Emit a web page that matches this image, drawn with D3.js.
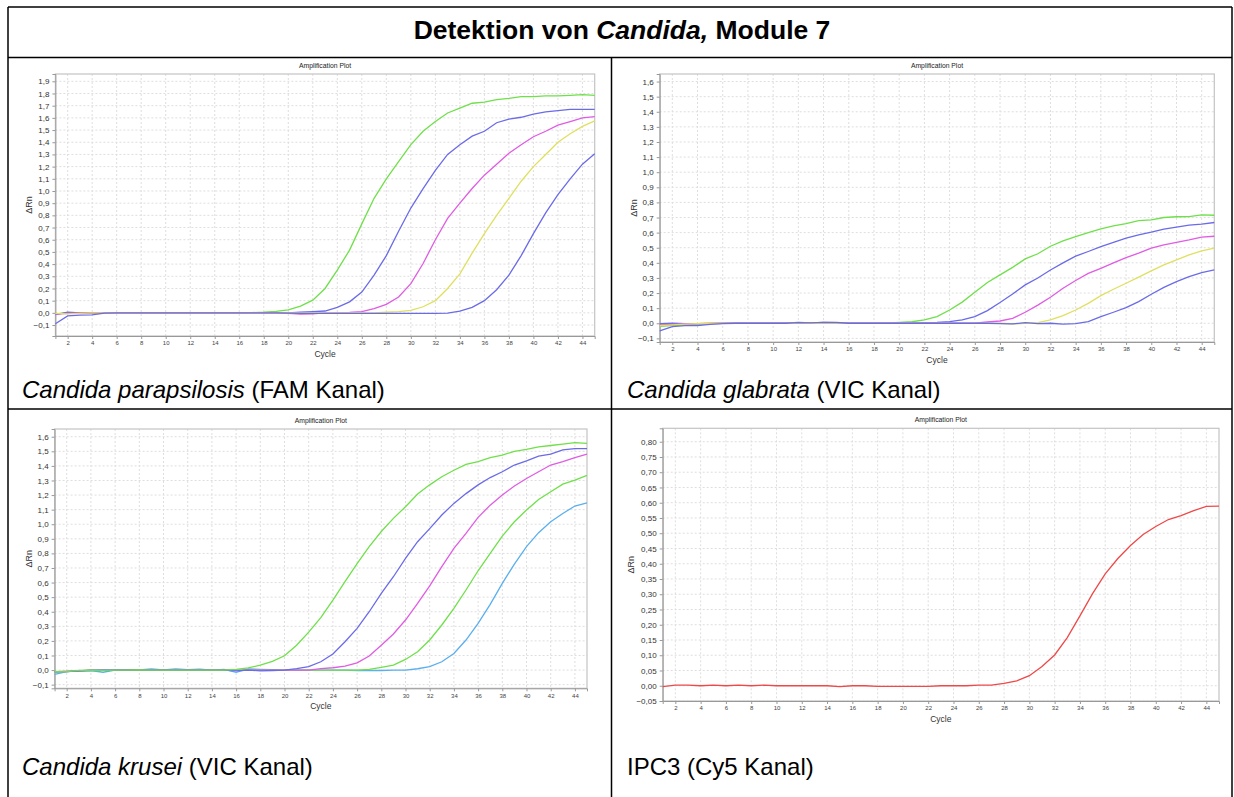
<!DOCTYPE html>
<html>
<head>
<meta charset="utf-8">
<script src="https://cdn.jsdelivr.net/npm/d3@7"></script>
<style>
  body { margin: 0; background: #fff; }
  svg { display: block; font-family: "Liberation Sans", Arial, sans-serif; }
</style>
</head>
<body>
<div id="chart"></div>
<script>
// cycles on the x axis
var cycles = [1,2,3,4,5,6,7,8,9,10,11,12,13,14,15,16,17,18,19,20,21,22,23,24,25,26,27,28,29,30,31,32,33,34,35,36,37,38,39,40,41,42,43,44,45];
var xTicks = [2,4,6,8,10,12,14,16,18,20,22,24,26,28,30,32,34,36,38,40,42,44];

// y tick labels
var yTicks19 = [-0.1,0,0.1,0.2,0.3,0.4,0.5,0.6,0.7,0.8,0.9,1.0,1.1,1.2,1.3,1.4,1.5,1.6,1.7,1.8,1.9];
var yTicks16 = [-0.1,0,0.1,0.2,0.3,0.4,0.5,0.6,0.7,0.8,0.9,1.0,1.1,1.2,1.3,1.4,1.5,1.6];
var yTicks08 = [-0.05,0,0.05,0.10,0.15,0.20,0.25,0.30,0.35,0.40,0.45,0.50,0.55,0.60,0.65,0.70,0.75,0.80];

// Candida parapsilosis (FAM)
var famGreen  = [-0.01,0,-0.005,0,0.002,0.002,0,0,0,0,0,0,0,0,0,0,0.002,0.005,0.012,0.025,0.055,0.104,0.2,0.35,0.515,0.73,0.94,1.10,1.24,1.38,1.49,1.57,1.64,1.68,1.72,1.73,1.75,1.76,1.775,1.775,1.78,1.78,1.785,1.79,1.785];
var famBlue1  = [-0.015,0.005,0,-0.003,0,0.002,0,0,0,0,0,0,0,0,0,0,0,0,0,0,0.005,0.01,0.015,0.045,0.09,0.17,0.31,0.47,0.67,0.86,1.02,1.17,1.30,1.38,1.45,1.49,1.56,1.59,1.605,1.63,1.65,1.66,1.67,1.67,1.67];
var famPink   = [-0.01,-0.005,0,0,0,0,0,0,0,0,0,0,0,0,0,0,0,0,0,-0.005,-0.01,-0.008,0,0.002,0.004,0.01,0.035,0.07,0.13,0.24,0.405,0.60,0.775,0.90,1.02,1.13,1.22,1.31,1.38,1.445,1.49,1.54,1.57,1.60,1.61];
var famYellow = [-0.005,-0.008,-0.005,0,0,0,0,0,0,0,0,0,0,0,0,0,0,0,0,0,0,0,0,0,0,0,0,0.005,0.01,0.02,0.05,0.10,0.20,0.32,0.49,0.65,0.80,0.94,1.08,1.20,1.30,1.40,1.47,1.53,1.575];
var famBlue2  = [-0.09,-0.025,-0.018,-0.017,-0.002,0,0,0,0,0,0,0,0,0,0,0,0,0,0,-0.003,-0.005,-0.005,-0.005,-0.005,-0.005,-0.005,-0.005,-0.005,-0.005,-0.005,-0.005,-0.005,-0.002,0.015,0.045,0.10,0.19,0.31,0.47,0.65,0.82,0.97,1.10,1.22,1.305];

// Candida glabrata (VIC)
var glaGreen  = [-0.02,-0.015,-0.01,-0.005,-0.003,0,0.002,0,0,0,0,0.003,0,0.002,0,0,0,0,0,0.005,0.01,0.022,0.044,0.088,0.14,0.205,0.27,0.32,0.37,0.426,0.46,0.51,0.545,0.574,0.60,0.625,0.645,0.66,0.68,0.685,0.70,0.705,0.706,0.717,0.715];
var glaBlue1  = [-0.003,0,-0.002,-0.003,-0.002,0,0,0,0,0,0,0.005,0.003,0.006,0.004,0,0,0,0,0,0,0.004,0.006,0.011,0.022,0.044,0.084,0.137,0.194,0.254,0.30,0.353,0.40,0.444,0.475,0.508,0.536,0.563,0.585,0.603,0.623,0.636,0.65,0.656,0.667];
var glaPink   = [-0.01,-0.008,-0.005,-0.003,0,0,0,0,0,0,0,0.003,0,0.004,0,0,0,0,0,0,0,0,0,0,0,0,0.009,0.015,0.033,0.073,0.12,0.172,0.232,0.283,0.33,0.364,0.40,0.435,0.464,0.497,0.519,0.536,0.552,0.57,0.576];
var glaYellow = [-0.015,-0.01,-0.006,-0.003,0,0,0,0,0,0,0,0,0,0,0,0,0,0,0,0,0,0,0,0,0,0,0,0,-0.005,0,0.004,0.022,0.05,0.088,0.132,0.183,0.225,0.265,0.305,0.347,0.386,0.42,0.453,0.479,0.497];
var glaBlue2  = [-0.05,-0.022,-0.016,-0.015,-0.008,-0.002,0,0,0,0,0,0.004,0.002,0.006,0.005,0,0,0,0,0,0,0,0,0,0,0,0,-0.002,-0.004,0.004,-0.002,0,-0.006,-0.002,0.011,0.044,0.073,0.104,0.143,0.192,0.238,0.276,0.309,0.336,0.353];

// Candida krusei (VIC)
var kruGreen1 = [-0.01,-0.01,-0.002,0,-0.002,0,0,0.002,0,0,0,0,0,0,0,0.005,0.015,0.034,0.06,0.098,0.17,0.26,0.36,0.48,0.606,0.73,0.846,0.95,1.04,1.12,1.207,1.27,1.326,1.37,1.41,1.43,1.456,1.474,1.50,1.513,1.53,1.54,1.55,1.56,1.554];
var kruBlue   = [-0.01,-0.01,-0.005,-0.003,0,0,0,0,0,0,0,0,0,0,0,-0.005,0,-0.005,-0.003,0,0.01,0.023,0.057,0.11,0.194,0.286,0.40,0.526,0.64,0.766,0.88,0.97,1.063,1.143,1.21,1.27,1.32,1.36,1.406,1.435,1.467,1.48,1.51,1.518,1.518];
var kruPink   = [-0.01,-0.008,-0.005,0,0,0,0,0,0,0,0,0,0,0,0,0,0,0,0,0,0,0,0.01,0.016,0.027,0.05,0.096,0.17,0.247,0.343,0.457,0.578,0.709,0.834,0.937,1.047,1.131,1.20,1.262,1.314,1.36,1.406,1.43,1.456,1.48];
var kruGreen2 = [-0.015,-0.01,-0.005,0,0,0,0,0,0,0,0,0,0,0,0,0,0,0,0,0,0,0,0,0,0,0,0.005,0.018,0.034,0.073,0.126,0.206,0.309,0.423,0.549,0.681,0.80,0.919,1.017,1.097,1.17,1.223,1.275,1.303,1.335];
var kruCyan   = [-0.03,-0.01,-0.005,-0.003,-0.015,0,0.002,0.002,0.008,0.002,0.008,0.003,0.006,0,0.005,-0.015,0.008,0.005,0.003,0.002,0,0,0,0,0,-0.003,-0.003,-0.003,0,0,0.009,0.023,0.057,0.114,0.206,0.32,0.45,0.594,0.727,0.846,0.942,1.017,1.074,1.125,1.147];

// IPC3 (Cy5)
var ipcRed = [-0.003,0.002,0.002,0,0.002,0,0.002,0,0.002,0,0,0,0,0,-0.003,0,0,-0.002,-0.002,-0.002,-0.002,-0.002,0,0,0,0.002,0.002,0.008,0.016,0.033,0.063,0.101,0.158,0.229,0.302,0.367,0.417,0.46,0.496,0.522,0.545,0.558,0.574,0.588,0.589];

var cGreen = "#6fe04a", cBlue = "#6b6be8", cPink = "#df5ce3", cYellow = "#dfe060", cCyan = "#5aafee", cRed = "#ee4848";

var W = 1234, H = 797;
var svg = d3.select("#chart").append("svg").attr("width", W).attr("height", H);

var commaFmt = function(dec) {
    return function(v) { return d3.format("." + dec + "f")(v).replace(".", ","); };
};

function drawPanel(p) {
    var x = d3.scaleLinear().domain([1, 45]).range([p.left, p.right]);
    var y = d3.scaleLinear().domain(p.yDomain).range([p.bottom, p.top]);
    var g = svg.append("g");

    // grid
    g.selectAll(".vg").data(xTicks).enter().append("line")
        .attr("x1", function(d){ return x(d); }).attr("x2", function(d){ return x(d); })
        .attr("y1", p.top).attr("y2", p.bottom)
        .attr("stroke", "#dedede").attr("stroke-dasharray", "2,2").attr("stroke-width", 1);
    g.selectAll(".hg").data(p.yTicks).enter().append("line")
        .attr("x1", p.left).attr("x2", p.right)
        .attr("y1", function(d){ return y(d); }).attr("y2", function(d){ return y(d); })
        .attr("stroke", "#dedede").attr("stroke-dasharray", "2,2").attr("stroke-width", 1);

    // frame
    g.append("rect").attr("x", p.left).attr("y", p.top)
        .attr("width", p.right - p.left).attr("height", p.bottom - p.top)
        .attr("fill", "none").attr("stroke", "#c4c4c4").attr("stroke-width", 1.2);

    // axes
    var yAxis = d3.axisLeft(y).tickValues(p.yTicks).tickSize(3).tickPadding(3).tickFormat(commaFmt(p.dec));
    var ga = g.append("g").attr("transform", "translate(" + p.left + ",0)").call(yAxis);
    ga.select(".domain").attr("stroke", "#999");
    ga.selectAll(".tick line").attr("stroke", "#999");
    ga.selectAll("text").attr("font-size", 8).attr("fill", "#333").attr("font-family", "Liberation Sans, Arial");

    var xAxis = d3.axisBottom(x).tickValues(xTicks).tickSize(3).tickPadding(2);
    var gx = g.append("g").attr("transform", "translate(0," + p.bottom + ")").call(xAxis);
    gx.select(".domain").attr("stroke", "#999");
    gx.selectAll(".tick line").attr("stroke", "#999");
    gx.selectAll("text").attr("font-size", 6).attr("fill", "#444").attr("font-family", "Liberation Sans, Arial");

    // lines
    var line = d3.line()
        .x(function(d, i){ return x(cycles[i]); })
        .y(function(d){ return y(d); });
    g.selectAll(".curve").data(p.series).enter().append("path")
        .attr("d", function(s){ return line(s.values); })
        .attr("fill", "none")
        .attr("stroke", function(s){ return s.color; })
        .attr("stroke-width", 1.3);

    // labels
    g.append("text").attr("x", (p.left + p.right) / 2).attr("y", p.top - 6)
        .attr("text-anchor", "middle").attr("font-size", 6.8).attr("fill", "#222")
        .text("Amplification Plot");
    g.append("text").attr("x", (p.left + p.right) / 2).attr("y", p.bottom + 21)
        .attr("text-anchor", "middle").attr("font-size", 8.5).attr("fill", "#333")
        .text("Cycle");
    g.append("text")
        .attr("transform", "translate(" + (p.left - p.yLabGap) + "," + ((p.top + p.bottom) / 2) + ") rotate(-90)")
        .attr("text-anchor", "middle").attr("font-size", 9).attr("fill", "#333")
        .text("\u0394Rn");

    // caption
    var cap = svg.append("text").attr("x", p.capX).attr("y", p.capY)
        .attr("font-size", 24).attr("fill", "#000");
    if (p.capItalic) cap.append("tspan").attr("font-style", "italic").text(p.capItalic);
    cap.append("tspan").text(p.capRest);
}

var panels = [
    { left: 55.4, right: 594.7, top: 74, bottom: 336, yDomain: [-0.19, 1.96], yTicks: yTicks19, dec: 1, yLabGap: 23,
      series: [ {values: famGreen, color: cGreen}, {values: famBlue1, color: cBlue}, {values: famPink, color: cPink},
                {values: famYellow, color: cYellow}, {values: famBlue2, color: cBlue} ],
      capX: 22, capY: 398, capItalic: "Candida parapsilosis", capRest: " (FAM Kanal)" },
    { left: 659.7, right: 1214.3, top: 74, bottom: 342, yDomain: [-0.124, 1.65], yTicks: yTicks16, dec: 1, yLabGap: 23,
      series: [ {values: glaGreen, color: cGreen}, {values: glaBlue1, color: cBlue}, {values: glaPink, color: cPink},
                {values: glaYellow, color: cYellow}, {values: glaBlue2, color: cBlue} ],
      capX: 627, capY: 398, capItalic: "Candida glabrata", capRest: " (VIC Kanal)" },
    { left: 54.6, right: 587, top: 429, bottom: 688.3, yDomain: [-0.125, 1.653], yTicks: yTicks16, dec: 1, yLabGap: 23,
      series: [ {values: kruCyan, color: cCyan}, {values: kruGreen2, color: cGreen}, {values: kruPink, color: cPink},
                {values: kruBlue, color: cBlue}, {values: kruGreen1, color: cGreen} ],
      capX: 22, capY: 775, capItalic: "Candida krusei", capRest: " (VIC Kanal)" },
    { left: 662.7, right: 1219, top: 428.3, bottom: 701, yDomain: [-0.05, 0.844], yTicks: yTicks08, dec: 2, yLabGap: 29,
      series: [ {values: ipcRed, color: cRed} ],
      capX: 627, capY: 775, capItalic: null, capRest: "IPC3 (Cy5 Kanal)" }
];

panels.forEach(drawPanel);

// table frame
var frame = [
    [8, 7, 1232, 7], [8, 7, 8, 797], [1232, 7, 1232, 797],
    [8, 57.5, 1232, 57.5], [8, 409, 1232, 409], [611.5, 57.5, 611.5, 797]
];
svg.selectAll(".frame").data(frame).enter().append("line")
    .attr("x1", function(d){ return d[0]; }).attr("y1", function(d){ return d[1]; })
    .attr("x2", function(d){ return d[2]; }).attr("y2", function(d){ return d[3]; })
    .attr("stroke", "#000").attr("stroke-width", 1.5);

// title
var title = svg.append("text").attr("x", 622).attr("y", 39)
    .attr("text-anchor", "middle").attr("font-size", 26.5).attr("font-weight", "bold");
title.append("tspan").text("Detektion von ");
title.append("tspan").attr("font-style", "italic").text("Candida,");
title.append("tspan").text(" Module 7");
</script>
</body>
</html>
